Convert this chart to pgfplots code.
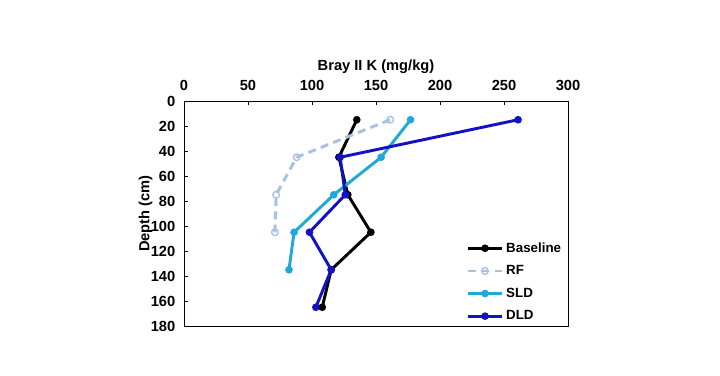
\documentclass[border=0pt]{standalone}
\usepackage{pgfplots}
\pgfplotsset{compat=1.18}
\usepackage{fontspec}
\setmainfont{Liberation Sans}
\definecolor{rfc}{HTML}{A6C2E0}
\definecolor{sldc}{HTML}{1FA8D8}
\definecolor{dldc}{HTML}{1212C4}
\begin{document}
\begin{tikzpicture}
\path (-138pt,-36.75pt) rectangle (402pt,244.5pt);
\begin{axis}[
  at={(0,0)}, anchor=south west,
  scale only axis, width=288pt, height=168.75pt,
  xmin=0, xmax=300, ymin=0, ymax=180,
  y dir=reverse,
  xtick={0,50,...,300}, ytick={0,20,...,180},
  xtick pos=top, xticklabel pos=top, ytick pos=left,
  tick align=inside, major tick length=3pt,
  axis line style={line width=0.75pt},
  tick style={line width=0.6pt, black},
  font=\bfseries\fontsize{11}{13}\selectfont,
  ticklabel style={font=\bfseries\fontsize{11}{13}\selectfont},
  xticklabel style={yshift=4.5pt},
  yticklabel style={xshift=-3pt},
  /pgf/number format/assume math mode=true,
  xlabel={Bray II K (mg/kg)},
  ylabel={Depth (cm)},
  xlabel style={yshift=-2pt},
  ylabel style={yshift=-8pt},
  legend style={draw=none, fill=none, at={(1,0)}, anchor=south east, yshift=-1pt,
    font=\bfseries\fontsize{10}{12}\selectfont, row sep=4.5pt,
    legend cell align=left},
  legend image code/.code={
    \draw[#1, mark repeat=2, mark phase=2] plot coordinates {(0cm,0cm) (0.45cm,0cm) (0.9cm,0cm)};},
]
\addplot[black, line width=2.2pt, mark=*, mark size=1.7pt] coordinates {
(135,15) (121,45) (128,75) (146,105) (115,135) (108,165)};
\addlegendentry{Baseline}
\addplot[rfc, line width=2.2pt, dashed, dash pattern=on 6pt off 4pt, mark=o, mark size=2.5pt, mark options={solid, line width=1pt, fill=white}] coordinates {
(161,15) (88,45) (72,75) (71,105)};
\addlegendentry{RF}
\addplot[sldc, line width=2.2pt, mark=*, mark size=1.7pt] coordinates {
(177,15) (154,45) (117,75) (86,105) (82,135)};
\addlegendentry{SLD}
\addplot[dldc, line width=2.2pt, mark=*, mark size=1.7pt] coordinates {
(261,15) (122,45) (126,75) (98,105) (115,135) (103,165)};
\addlegendentry{DLD}
\end{axis}
\end{tikzpicture}
\end{document}
